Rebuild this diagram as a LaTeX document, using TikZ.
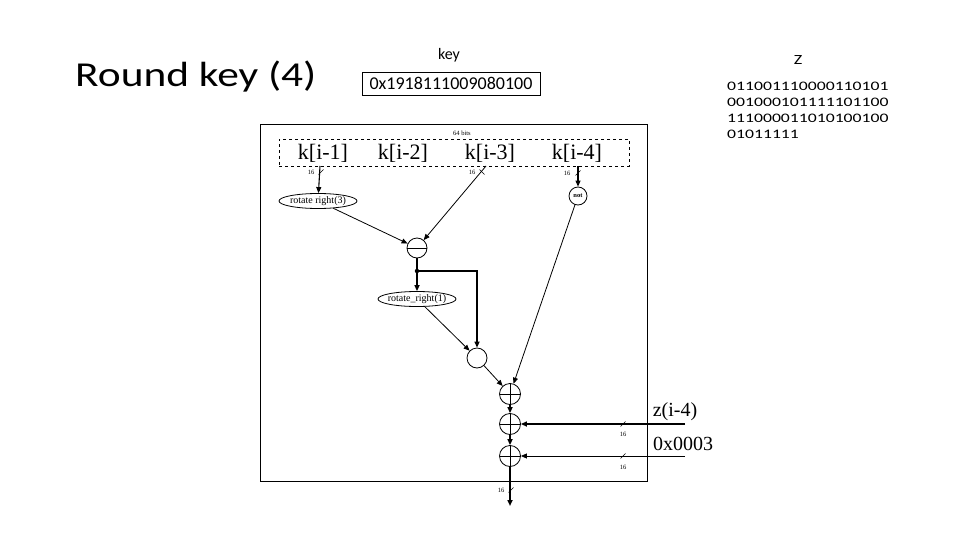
\documentclass[tikz,border=0pt]{standalone}
\usepackage{fontspec}
\setmainfont{Liberation Serif}
\newfontfamily\calfont{Carlito}
\usetikzlibrary{arrows.meta,shapes.geometric}
\tikzset{
  arr/.style={-{Triangle[length=6pt,width=5pt]}, line width=0.8pt},
  thickarr/.style={-{Triangle[length=6pt,width=5pt]}, line width=1.6pt},
  op/.style={circle, draw, line width=0.8pt, minimum size=20pt, inner sep=0pt},
  xorop/.style={op, path picture={\draw[line width=0.8pt] (path picture bounding box.north) -- (path picture bounding box.south) (path picture bounding box.west) -- (path picture bounding box.east);}},
  subop/.style={op, path picture={\draw[line width=0.8pt] (path picture bounding box.west) -- (path picture bounding box.east);}},
  rot/.style={ellipse, draw, line width=0.8pt, minimum width=78pt, minimum height=15pt, inner xsep=-8pt, inner ysep=-4pt, font=\fontsize{10}{11}\selectfont},
  klabel/.style={font=\fontsize{22}{24}\selectfont, inner sep=0pt},
  tinylabel/.style={font=\fontsize{6.5}{7}\selectfont, inner sep=0pt},
  biglabel/.style={font=\fontsize{20}{22}\selectfont, inner sep=0pt},
  slashmark/.style={line width=0.6pt},
  caltext/.style={font=\calfont, inner sep=0pt},
  zline/.style={caltext, anchor=base west, font=\calfont\fontsize{13}{15}\selectfont},
}
\begin{document}
\begin{tikzpicture}[x=1pt,y=-1pt]
\useasboundingbox (0,0) rectangle (960,540);
% top texts
\node[caltext, anchor=base west, font=\calfont\fontsize{35}{40}\selectfont] (title) at (75,87) {\scalebox{1.24}[1]{Round key (4)}};
\node[caltext, font=\calfont\fontsize{16}{18}\selectfont] (keyt) at (449,55) {key};
\node[draw, line width=0.8pt, minimum width=178pt, minimum height=23pt, inner sep=0pt, font=\calfont\fontsize{18}{20}\selectfont] (keybox) at (451,83.5) {0x1918111009080100};
\node[caltext, font=\calfont\fontsize{14}{16}\selectfont] (zt) at (798,60) {\scalebox{1.3}[1]{Z}};
\node[zline] (z1) at (727,91) {\scalebox{1.36}[1]{011001110000110101}};
\node[zline] (z2) at (727,107) {\scalebox{1.36}[1]{001000101111101100}};
\node[zline] (z3) at (727,123) {\scalebox{1.36}[1]{111000011010100100}};
\node[zline] (z4) at (727,139) {\scalebox{1.36}[1]{01011111}};
% frames
\node[draw, line width=0.8pt, minimum width=387pt, minimum height=357pt, inner sep=0pt] (outer) at (453.5,302.5) {};
\node[draw, dashed, line width=0.8pt, minimum width=350pt, minimum height=27pt, inner sep=0pt] (regs) at (454,152.5) {};
\node[tinylabel] (bits) at (462,133) {64 bits};
\node[klabel] (k1) at (323,153) {k[i-1]};
\node[klabel] (k2) at (403,153) {k[i-2]};
\node[klabel] (k3) at (490,153) {k[i-3]};
\node[klabel] (k4) at (577,153) {k[i-4]};
\coordinate (k1out) at (320,166);
\coordinate (k3out) at (486,166);
\coordinate (k4out) at (578,166);
% operators
\node[rot] (r3) at (318,201) {rotate right(3)};
\node[subop] (M) at (417,248) {};
\node[circle, draw, line width=0.8pt, minimum size=18pt, inner sep=0pt, font=\bfseries\fontsize{6.5}{7}\selectfont] (N) at (578,196) {not};
\node[circle, fill, inner sep=0pt, minimum size=4.5pt] (D) at (417,271) {};
\node[rot] (r1) at (417,299) {rotate\_right(1)};
\node[op] (E) at (477,358) {};
\node[xorop, minimum size=21pt] (P1) at (510,394) {};
\node[xorop, minimum size=21pt] (P2) at (510,424) {};
\node[xorop, minimum size=21pt] (P3) at (510,456) {};
\coordinate (outp) at (510,506);
\coordinate (zin) at (685,424);
\coordinate (cin) at (685,456);
\node[biglabel] (zl) at (675,412) {z(i-4)};
\node[biglabel] (cl) at (683,444) {0x0003};
% connectors
\draw[arr, line width=1.1pt] (k1out) -- (r3);
\draw[arr] (r3) -- (M);
\draw[arr] (k3out) -- (M);
\draw[arr, line width=1.1pt] (k4out) -- (N);
\draw[arr] (N) -- (P1);
\draw[line width=1.6pt] (M) -- (D);
\draw[thickarr] (D) -- (r1);
\draw[thickarr] (D) -| (E);
\draw[arr] (r1) -- (E);
\draw[arr] (E) -- (P1);
\draw[thickarr] (P1) -- (P2);
\draw[thickarr] (P2) -- (P3);
\draw[thickarr] (P3) -- (outp);
\draw[thickarr] (zin) -- (P2);
\draw[arr] (cin) -- (P3);
% width marks
\draw[slashmark] (321,172) ++(-2.5,2.5) -- ++(5,-5);
\node[tinylabel] (w1) at (311,172) {16};
\draw[slashmark] (482,172) ++(-2.5,-2.5) -- ++(5,5);
\node[tinylabel] (w2) at (472,172) {16};
\draw[slashmark] (578,173) ++(-2.5,2.5) -- ++(5,-5);
\node[tinylabel] (w3) at (567,173) {16};
\draw[slashmark] (511,490) ++(-2.5,2.5) -- ++(5,-5);
\node[tinylabel] (w4) at (501,490) {16};
\draw[slashmark] (623,424) ++(-2.5,2.5) -- ++(5,-5);
\node[tinylabel] (w5) at (623,434) {16};
\draw[slashmark] (623,456) ++(-2.5,2.5) -- ++(5,-5);
\node[tinylabel] (w6) at (623,467) {16};
\end{tikzpicture}
\end{document}
